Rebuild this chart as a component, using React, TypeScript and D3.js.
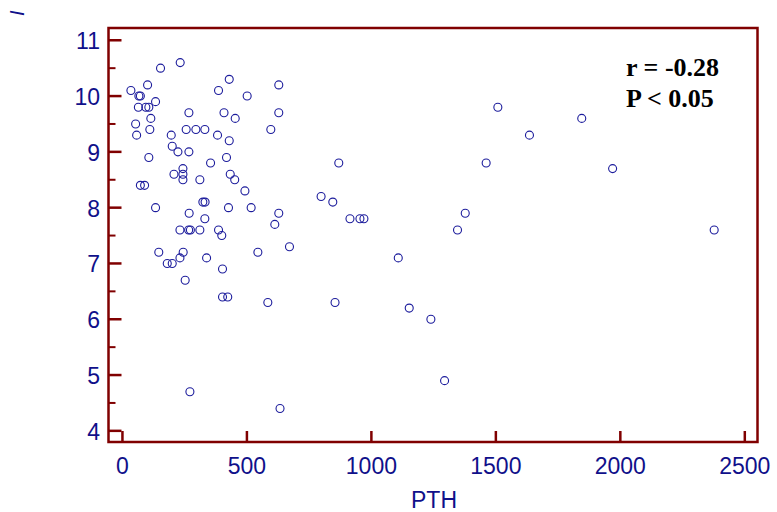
import React, { useEffect, useRef } from "react";
import * as d3 from "d3";

// PTH values and matching I values
const pthValues = [
  34, 66, 72, 101, 153, 232, 64, 94, 106, 133, 114, 53, 57, 110, 267, 196, 256, 295, 331, 200,
  223, 267, 106, 386, 429, 501, 408, 453, 382, 429, 354, 418, 628, 628, 596, 243, 207, 243, 243, 311,
  433, 451, 492, 72, 89, 323, 332, 133, 426, 517, 628, 612, 268, 331, 231, 266, 273, 311, 386, 399,
  671, 146, 244, 544, 231, 338, 180, 200, 402, 252, 402, 423, 584, 271, 633, 869, 798, 845, 914, 954,
  970, 1108, 1508, 1461, 1377, 1346, 854, 1152, 1239, 1294, 1635, 1845, 1969, 2377,
];
const iValues = [
  10.1, 10.0, 10.0, 10.2, 10.5, 10.6, 9.8, 9.8, 9.8, 9.9, 9.6, 9.5, 9.3, 9.4, 9.7, 9.3, 9.4, 9.4, 9.4, 9.1,
  9.0, 9.0, 8.9, 10.1, 10.3, 10.0, 9.7, 9.6, 9.3, 9.2, 8.8, 8.9, 10.2, 9.7, 9.4, 8.7, 8.6, 8.6, 8.5, 8.5,
  8.6, 8.5, 8.3, 8.4, 8.4, 8.1, 8.1, 8.0, 8.0, 8.0, 7.9, 7.7, 7.9, 7.8, 7.6, 7.6, 7.6, 7.6, 7.6, 7.5,
  7.3, 7.2, 7.2, 7.2, 7.1, 7.1, 7.0, 7.0, 6.9, 6.7, 6.4, 6.4, 6.3, 4.7, 4.4, 8.8, 8.2, 8.1, 7.8, 7.8,
  7.8, 7.1, 9.8, 8.8, 7.9, 7.6, 6.3, 6.2, 6.0, 4.9, 9.3, 9.6, 8.7, 7.6,
];
const xTicks = [0, 500, 1000, 1500, 2000, 2500];
const yTicks = [4, 5, 6, 7, 8, 9, 10, 11];
const yMinorTicks = [4.5, 5.5, 6.5, 7.5, 8.5, 9.5, 10.5];
const statLines = ["r = -0.28", "P < 0.05"];

const App = () => {
  const svgRef = useRef(null);

  useEffect(() => {
    const width = 777;
    const height = 512;
    const frame = { left: 108.5, right: 757.5, top: 28, bottom: 442 };
    const axisColor = "#800000";
    const textColor = "#10108a";
    const font = "'Liberation Sans', Arial, sans-serif";

    const svg = d3.select(svgRef.current);
    svg.selectAll("*").remove();
    svg.attr("width", width).attr("height", height);

    const x = d3.scaleLinear().domain([-56, 2551]).range([frame.left, frame.right]);
    const y = d3.scaleLinear().domain([3.8, 11.22]).range([frame.bottom, frame.top]);

    // points
    svg
      .append("g")
      .selectAll("circle")
      .data(pthValues.map((p, i) => [p, iValues[i]]))
      .join("circle")
      .attr("cx", (d) => x(d[0]))
      .attr("cy", (d) => y(d[1]))
      .attr("r", 4)
      .attr("fill", "none")
      .attr("stroke", "#1c1c9c")
      .attr("stroke-width", 1.1);

    // frame
    svg
      .append("rect")
      .attr("x", frame.left)
      .attr("y", frame.top)
      .attr("width", frame.right - frame.left)
      .attr("height", frame.bottom - frame.top)
      .attr("fill", "none")
      .attr("stroke", axisColor)
      .attr("stroke-width", 2.5);

    // y ticks (inward)
    svg
      .append("g")
      .selectAll("line")
      .data(yTicks)
      .join("line")
      .attr("x1", frame.left)
      .attr("x2", frame.left + 13)
      .attr("y1", (d) => y(d))
      .attr("y2", (d) => y(d))
      .attr("stroke", axisColor)
      .attr("stroke-width", 2.5);

    svg
      .append("g")
      .selectAll("line")
      .data(yMinorTicks)
      .join("line")
      .attr("x1", frame.left)
      .attr("x2", frame.left + 7)
      .attr("y1", (d) => y(d))
      .attr("y2", (d) => y(d))
      .attr("stroke", axisColor)
      .attr("stroke-width", 2);

    svg
      .append("g")
      .selectAll("text")
      .data(yTicks)
      .join("text")
      .attr("x", 100)
      .attr("y", (d) => y(d) + 9)
      .attr("text-anchor", "end")
      .style("font-family", font)
      .style("font-size", "23px")
      .attr("fill", textColor)
      .text((d) => d);

    // x ticks (inward)
    svg
      .append("g")
      .selectAll("line")
      .data(xTicks)
      .join("line")
      .attr("x1", (d) => x(d))
      .attr("x2", (d) => x(d))
      .attr("y1", frame.bottom)
      .attr("y2", frame.bottom - 11)
      .attr("stroke", axisColor)
      .attr("stroke-width", 2.5);

    svg
      .append("g")
      .selectAll("text")
      .data(xTicks)
      .join("text")
      .attr("x", (d) => x(d))
      .attr("y", 474)
      .attr("text-anchor", "middle")
      .style("font-family", font)
      .style("font-size", "23px")
      .attr("fill", textColor)
      .text((d) => d);

    svg
      .append("text")
      .attr("x", 434)
      .attr("y", 508)
      .attr("text-anchor", "middle")
      .style("font-family", font)
      .style("font-size", "23px")
      .attr("fill", textColor)
      .text("PTH");

    svg
      .append("text")
      .attr("transform", "translate(24,16) rotate(-90)")
      .style("font-family", font)
      .style("font-size", "20px")
      .style("font-style", "italic")
      .attr("fill", textColor)
      .text("I");

    svg
      .append("g")
      .selectAll("text")
      .data(statLines)
      .join("text")
      .attr("x", 626)
      .attr("y", (d, i) => 76 + i * 31)
      .style("font-family", "'Liberation Serif', 'Times New Roman', serif")
      .style("font-size", "26px")
      .style("font-weight", "bold")
      .attr("fill", "#000")
      .text((d) => d);
  }, []);

  return (
    <svg
      ref={svgRef}
      style={{ position: "absolute", left: 0, top: 0, background: "white", display: "block" }}
    ></svg>
  );
};

export default App;
